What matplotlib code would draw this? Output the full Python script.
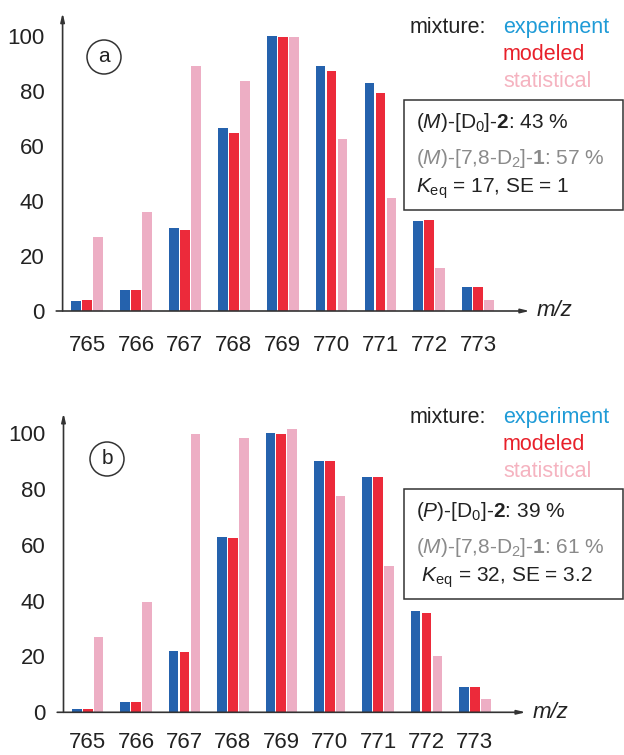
import numpy as np
import matplotlib
matplotlib.use("Agg")
import matplotlib.pyplot as plt
from matplotlib.patches import Rectangle

plt.rcParams['font.family'] = ['Liberation Sans', 'DejaVu Sans']
plt.rcParams['mathtext.fontset'] = 'custom'
plt.rcParams['mathtext.rm'] = 'Liberation Sans'
plt.rcParams['mathtext.it'] = 'Liberation Sans:italic'
plt.rcParams['mathtext.bf'] = 'Liberation Sans:bold'

# ── data ─────────────────────────────────────────────────────────────────────
mz = np.array([765, 766, 767, 768, 769, 770, 771, 772, 773])

exp_a  = [3.6, 7.8, 30.2, 66.4, 100.0, 89.3, 82.8, 32.7, 8.8]
mod_a  = [4.0, 7.5, 29.5, 64.6, 99.8, 87.2, 79.4, 33.0, 8.6]
stat_a = [26.8, 36.0, 89.1, 83.5, 99.8, 62.5, 41.1, 15.8, 4.0]

exp_b  = [1.1, 3.6, 22.1, 62.8, 100.0, 90.1, 84.4, 36.3, 9.1]
mod_b  = [1.3, 3.8, 21.7, 62.6, 99.7, 90.2, 84.2, 35.5, 9.2]
stat_b = [26.9, 39.5, 99.7, 98.2, 101.6, 77.5, 52.4, 20.3, 4.8]

yticks = [0, 20, 40, 60, 80, 100]

box_a = [r"$\mathit{(M)}$-[D$_0$]-$\mathbf{2}$: 43 %",
         r"$\mathit{(M)}$-[7,8-D$_2$]-$\mathbf{1}$: 57 %",
         r"$\mathit{K}_{\mathrm{eq}}$ = 17, SE = 1"]
box_b = [r"$\mathit{(P)}$-[D$_0$]-$\mathbf{2}$: 39 %",
         r"$\mathit{(M)}$-[7,8-D$_2$]-$\mathbf{1}$: 61 %",
         r" $\mathit{K}_{\mathrm{eq}}$ = 32, SE = 3.2"]

C_EXP, C_MOD, C_STAT = "#2562ad", "#ec2a3a", "#edaec4"
T_EXP, T_MOD, T_STAT = "#1f9bd7", "#e8202a", "#f5b3c0"
GRAY = "#8a8a8a"
INK = "#222222"

W, H = 624, 755
fig = plt.figure(figsize=(W / 100, H / 100), dpi=100)


def px(x, y):
    return x / W, 1 - y / H


def panel(rect, exp, mod, stat, ytop, label, circ, ybase, box_y, lines, xpad):
    left, top, right, bottom = rect
    ax = fig.add_axes([left / W, 1 - bottom / H, (right - left) / W, (bottom - top) / H])
    bw, step = 0.2, 0.225
    ax.bar(mz - step, exp, bw, color=C_EXP)
    ax.bar(mz, mod, bw, color=C_MOD)
    ax.bar(mz + step, stat, bw, color=C_STAT)
    ax.set_xlim(764.5, 774.05)
    ax.set_ylim(0, ytop)
    for s in ax.spines.values():
        s.set_visible(False)
    ax.set_yticks(yticks)
    ax.set_xticks(mz)
    ax.tick_params(axis='y', length=0, pad=13, labelsize=16, colors=INK)
    ax.tick_params(axis='x', length=0, pad=xpad, labelsize=16, colors=INK)
    arrow = dict(arrowstyle='-|>,head_length=0.5,head_width=0.12', color='#333333', lw=1.2,
                 shrinkA=0, shrinkB=0)
    ax.annotate('', xy=(764.5, ytop), xytext=(764.5, 0), arrowprops=arrow, annotation_clip=False)
    ax.annotate('', xy=(774.05, 0), xytext=(764.37, 0), arrowprops=arrow, annotation_clip=False)
    ax.text(774.2, 0, 'm/z', fontsize=16, style='italic', color=INK, va='center', ha='left')

    # circled panel label
    cx, cy = px(*circ)
    fig.text(cx, cy, label, fontsize=15, color=INK, ha='center', va='center',
             bbox=dict(boxstyle='circle,pad=0.36', fc='white', ec='#333333', lw=1.1))

    # legend text
    fig.text(*px(410, ybase), 'mixture:', fontsize=15.5, color=INK, va='baseline')
    fig.text(*px(503, ybase), 'experiment', fontsize=15.5, color=T_EXP, va='baseline')
    fig.text(*px(503, ybase + 27), 'modeled', fontsize=15.5, color=T_MOD, va='baseline')
    fig.text(*px(503, ybase + 54), 'statistical', fontsize=15.5, color=T_STAT, va='baseline')

    # info box
    bx0, by0 = px(404, box_y + 110)
    fig.patches.append(Rectangle((bx0, by0), 219 / W, 110 / H, transform=fig.transFigure,
                                 fill=False, ec='#333333', lw=1.1))
    cols = [INK, GRAY, INK]
    offs = [28, 64, 93]
    for txt, c, o in zip(lines, cols, offs):
        fig.text(*px(416.5, box_y + o), txt, fontsize=15, color=c, va='baseline')
    return ax


panel((62.6, 13, 62.6 + 9.55 * 48.9, 311), exp_a, mod_a, stat_a, 108.4, 'a',
      (104, 57), 33.3, 100, box_a, 17)
panel((63.5, 413.2, 63.5 + 9.55 * 48.4, 712.3), exp_b, mod_b, stat_b, 107.2, 'b',
      (107, 459), 423, 489, box_b, 14.5)

fig.savefig("out.png", dpi=100, facecolor='white')
